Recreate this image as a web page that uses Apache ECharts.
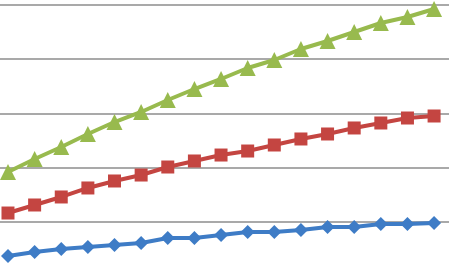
<!DOCTYPE html>
<html><head><meta charset="utf-8">
<script src="https://cdn.jsdelivr.net/npm/echarts@6/dist/echarts.min.js"></script>
<style>html,body{margin:0;padding:0;background:#fff}#c{width:449px;height:263px}</style>
</head><body><div id="c"></div>
<script>
var categories = ['1','2','3','4','5','6','7','8','9','10','11','12','13','14','15','16','17'];
var blueValues = [3.69,4.43,4.98,5.35,5.72,6.09,7.01,7.01,7.56,8.12,8.12,8.49,9.04,9.04,9.59,9.59,9.78];
var redValues = [11.62,13.10,14.58,16.24,17.53,18.63,20.11,21.22,22.32,23.06,24.17,25.28,26.20,27.31,28.23,29.15,29.52];
var greenValues = [19.19,21.59,23.80,26.20,28.41,30.26,32.47,34.50,36.35,38.38,39.85,41.88,43.36,45.02,46.68,47.79,49.26];
var yTicks = [0,10,20,30,40,50];

var chart = echarts.init(document.getElementById('c'));
function pairs(vals){ return categories.map(function(c,i){ return [i, vals[i]]; }); }
function s(name, data, color, symbol, size){
  return {name:name,type:'line',data:pairs(data),symbol:symbol,symbolSize:size,
    lineStyle:{color:color,width:4},itemStyle:{color:color},animation:false};
}
chart.setOption({
  animation:false,
  grid:{left:0,top:5,width:449,height:271,containLabel:false,outerBoundsMode:'none'},
  xAxis:{type:'value',min:-0.30,max:16.56,show:false,splitLine:{show:false}},
  yAxis:{type:'value',min:yTicks[0],max:yTicks[yTicks.length-1],interval:10,
    axisLabel:{show:false},axisLine:{show:false},axisTick:{show:false},
    splitLine:{lineStyle:{color:'#8c8c8c',width:1.5}}},
  series:[
    s('A',blueValues,'#3E7CC6','diamond',14),
    s('B',redValues,'#C44541','rect',13),
    s('C',greenValues,'#98BA4E','triangle',16)
  ]
});
</script></body></html>
